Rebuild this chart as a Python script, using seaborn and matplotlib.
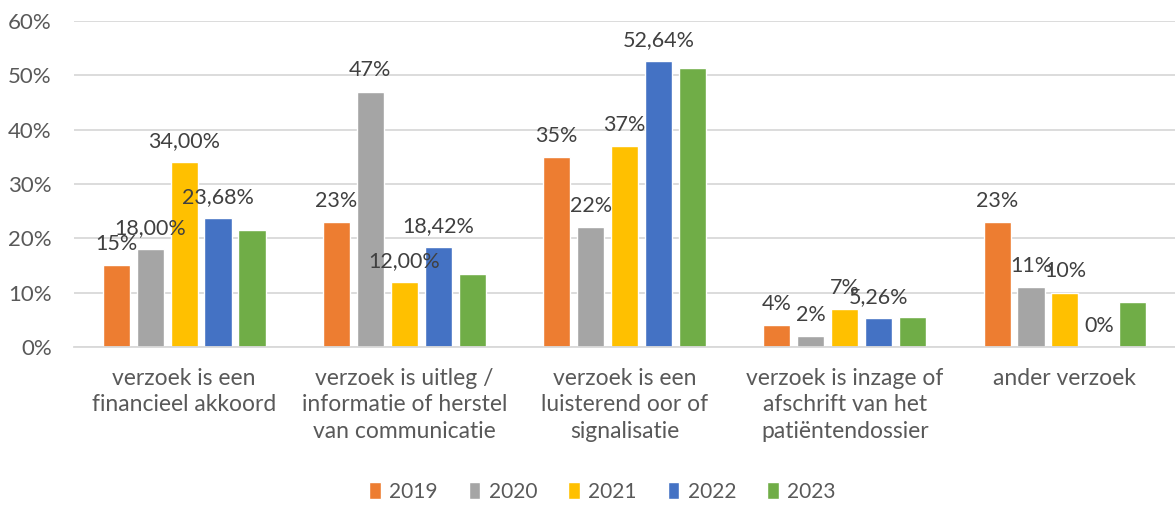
import pandas as pd
import seaborn as sns
import matplotlib.pyplot as plt
from matplotlib.ticker import PercentFormatter

# data
categories = [
    "verzoek is een\nfinancieel akkoord",
    "verzoek is uitleg /\ninformatie of herstel\nvan communicatie",
    "verzoek is een\nluisterend oor of\nsignalisatie",
    "verzoek is inzage of\nafschrift van het\npatiëntendossier",
    "ander verzoek",
]
years = ["2019", "2020", "2021", "2022", "2023"]
v2019 = [15, 23, 35, 4, 23]
v2020 = [18, 47, 22, 2, 11]
v2021 = [34, 12, 37, 7, 10]
v2022 = [23.68, 18.42, 52.64, 5.26, 0]
v2023 = [21.6, 13.5, 51.4, 5.5, 8.2]

lab2019 = ["15%", "23%", "35%", "4%", "23%"]
lab2020 = ["18,00%", "47%", "22%", "2%", "11%"]
lab2021 = ["34,00%", "12,00%", "37%", "7%", "10%"]
lab2022 = ["23,68%", "18,42%", "52,64%", "5,26%", "0%"]
lab2023 = ["", "", "", "", ""]

colors = ["#ED7D31", "#A5A5A5", "#FFC000", "#4472C4", "#70AD47"]

values = [v2019, v2020, v2021, v2022, v2023]
labels = [lab2019, lab2020, lab2021, lab2022, lab2023]

rows = []
for y, vals in zip(years, values):
    for c, v in zip(categories, vals):
        rows.append({"categorie": c, "jaar": y, "waarde": v})
df = pd.DataFrame(rows)

sns.set_theme(style="white")
plt.rcParams["font.family"] = ["Lato", "DejaVu Sans"]

fig = plt.figure(figsize=(11.75, 5.05), dpi=100)
ax = fig.add_axes([0.063, 0.313, 0.937, 0.6456])

sns.barplot(data=df, x="categorie", y="waarde", hue="jaar", palette=colors,
            width=0.77, gap=0.2, saturation=1, ax=ax)

ax.set_ylim(0, 60)
ax.set_yticks(range(0, 61, 10))
ax.yaxis.set_major_formatter(PercentFormatter(100, decimals=0))
ax.yaxis.grid(True, color="#d9d9d9", lw=1.3)
ax.set_axisbelow(True)
for s in ["top", "right", "left"]:
    ax.spines[s].set_visible(False)
ax.spines["bottom"].set_color("#d9d9d9")
ax.spines["bottom"].set_linewidth(1.3)
ax.set_xlabel("")
ax.set_ylabel("")
ax.tick_params(axis="y", length=0, pad=16, labelsize=16, labelcolor="#595959")
ax.tick_params(axis="x", length=0, pad=15, labelsize=16.5, labelcolor="#595959")
ax.set_xticks(range(len(categories)))
ax.set_xticklabels(categories, linespacing=1.32, va="top")

for cont, labs in zip(ax.containers, labels):
    ax.bar_label(cont, labels=labs, padding=8, fontsize=15.5, color="#404040")

sns.move_legend(ax, "center", bbox_to_anchor=(0.48, -0.445), ncol=5,
                frameon=False, title=None, fontsize=15, handlelength=0.55,
                handleheight=0.85, handletextpad=0.4, columnspacing=1.5)
for t in ax.get_legend().get_texts():
    t.set_color("#595959")

fig.savefig("out.png", dpi=100)
